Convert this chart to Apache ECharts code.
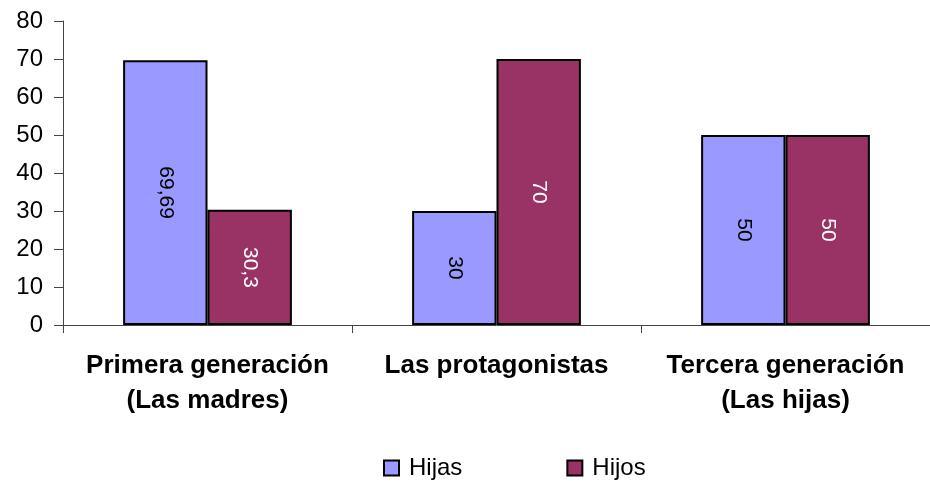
<!DOCTYPE html>
<html>
<head>
<meta charset="utf-8">
<script src="https://cdn.jsdelivr.net/npm/echarts@6/dist/echarts.min.js"></script>
<style>
  html, body { margin: 0; padding: 0; background: #fff; }
  #main { width: 930px; height: 489px; }
</style>
</head>
<body>
<div id="main"></div>
<script>
var categories = ['Primera generación\n(Las madres)', 'Las protagonistas', 'Tercera generación\n(Las hijas)'];
var hijas = [69.69, 30, 50];
var hijos = [30.3, 70, 50];
var yTicks = { min: 0, max: 80, interval: 10 };

var font = '"Liberation Sans", Arial, sans-serif';

function fmt(p) {
    return String(p.value).replace('.', ',');
}

var chart = echarts.init(document.getElementById('main'));
chart.setOption({
    animation: false,
    textStyle: { fontFamily: font },
    grid: { left: 63, right: -8, top: 21, bottom: 164 },
    legend: {
        top: 451,
        left: 378,
        itemGap: 104,
        itemWidth: 15,
        itemHeight: 15,
        icon: 'rect',
        textStyle: { fontSize: 24, color: '#000', fontFamily: font, padding: [0, 0, 0, 5] },
        data: ['Hijas', 'Hijos']
    },
    xAxis: {
        type: 'category',
        data: categories,
        axisLine: { lineStyle: { color: '#444', width: 1 } },
        axisTick: { show: true, length: 8, lineStyle: { color: '#444' } },
        axisLabel: {
            fontSize: 26, fontWeight: 'bold', color: '#000', fontFamily: font,
            margin: 23, lineHeight: 35, interval: 0
        }
    },
    yAxis: {
        type: 'value',
        min: yTicks.min,
        max: yTicks.max,
        interval: yTicks.interval,
        splitLine: { show: false },
        axisLine: { show: true, lineStyle: { color: '#444', width: 1 } },
        axisTick: { show: true, length: 9, lineStyle: { color: '#444' } },
        axisLabel: { fontSize: 24, color: '#000', fontFamily: font, margin: 20 }
    },
    series: [
        {
            name: 'Hijas',
            type: 'bar',
            data: hijas,
            barWidth: '29.2%',
            barGap: '0%',
            itemStyle: { color: '#9999FF', borderColor: '#000', borderWidth: 2 },
            label: {
                show: true, position: 'inside', rotate: -90,
                fontSize: 21, color: '#000', fontFamily: font, formatter: fmt
            }
        },
        {
            name: 'Hijos',
            type: 'bar',
            data: hijos,
            barWidth: '29.2%',
            barGap: '0%',
            itemStyle: { color: '#993366', borderColor: '#000', borderWidth: 2 },
            label: {
                show: true, position: 'inside', rotate: -90,
                fontSize: 21, color: '#fff', fontFamily: font, formatter: fmt
            }
        }
    ]
});
</script>
</body>
</html>
